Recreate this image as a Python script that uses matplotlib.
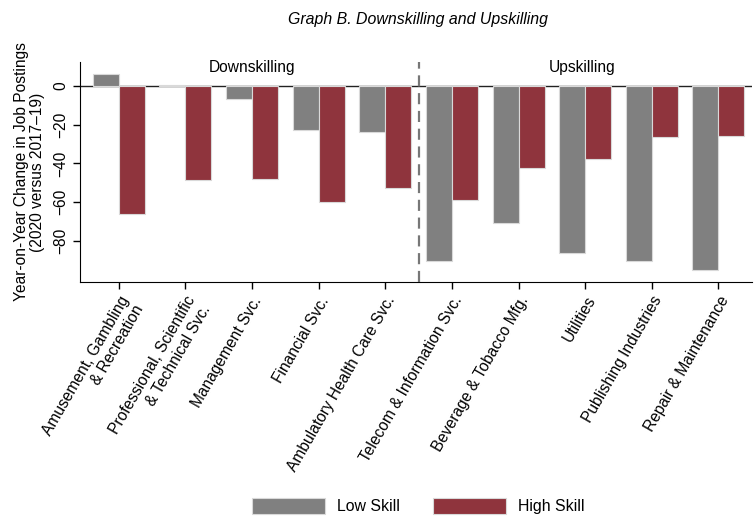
"""Recreate Graph B: Downskilling and Upskilling bar chart."""

import matplotlib
matplotlib.use("Agg")
import matplotlib.pyplot as plt
import numpy as np

plt.rcParams["font.family"] = ["Liberation Sans", "DejaVu Sans"]

# ---------------------------------------------------------------------------
# Data
# ---------------------------------------------------------------------------
industries = [
    "Amusement, Gambling\n& Recreation",
    "Professional, Scientific\n& Technical Svc.",
    "Management Svc.",
    "Financial Svc.",
    "Ambulatory Health Care Svc.",
    "Telecom & Information Svc.",
    "Beverage & Tobacco Mfg.",
    "Utilities",
    "Publishing Industries",
    "Repair & Maintenance",
]
low_skill = [6.2, 0.8, -6.9, -22.7, -23.7, -90.4, -70.6, -86.4, -90.7, -95.0]
high_skill = [-66.1, -48.6, -48.1, -60.0, -52.7, -59.1, -42.4, -37.8, -26.1, -25.8]
y_ticks = [0, -20, -40, -60, -80]
group_labels = ["Downskilling", "Upskilling"]

GRAY = "#808080"
RED = "#8F343D"
EDGE = "#d9d9d9"
FS = 11.2

# ---------------------------------------------------------------------------
# Plot
# ---------------------------------------------------------------------------
fig = plt.figure(figsize=(7.54, 5.25), dpi=100)
ax = fig.add_axes([0.106, 0.463, 0.891, 0.419])

x = np.arange(1, len(industries) + 1)
width = 0.39

ax.axhline(0, color="#222222", linewidth=1.0, zorder=1)
ax.bar(x - width / 2, low_skill, width, color=GRAY, edgecolor=EDGE,
       linewidth=0.8, label="Low Skill", zorder=2)
ax.bar(x + width / 2, high_skill, width, color=RED, edgecolor=EDGE,
       linewidth=0.8, label="High Skill", zorder=2)

# Divider between the two groups
ax.axvline(5.5, color="#777777", linestyle=(0, (5, 3)), linewidth=1.6, zorder=3)

ax.text(3.0, 9.5, group_labels[0], ha="center", va="center", fontsize=FS)
ax.text(7.95, 9.5, group_labels[1], ha="center", va="center", fontsize=FS)

ax.set_xlim(0.417, 10.5)
ax.set_ylim(-101.3, 12.5)

ax.set_yticks(y_ticks)
ax.set_yticklabels([str(v).replace("-", "\u2212") for v in y_ticks],
                   rotation=90, va="center", fontsize=FS)
ax.set_xticks(x)
ax.set_xticklabels(industries, rotation=60, ha="right", va="top",
                   rotation_mode="anchor", multialignment="right",
                   fontsize=FS)
ax.tick_params(axis="both", length=5, width=1, colors="black")

ax.set_ylabel("Year-on-Year Change in Job Postings\n(2020 versus 2017\u201319)",
              fontsize=FS, linespacing=1.1, labelpad=6)

for side in ("top", "right"):
    ax.spines[side].set_visible(False)

fig.suptitle("Graph B. Downskilling and Upskilling", x=0.555, y=0.977,
             fontsize=11.4, style="italic")

fig.legend(loc="center", bbox_to_anchor=(0.555, 0.036), ncol=2,
           frameon=False, fontsize=11.4, handlelength=4.6, handleheight=1.15,
           handletextpad=0.75, columnspacing=2.1)

fig.savefig("out.png", dpi=100)
